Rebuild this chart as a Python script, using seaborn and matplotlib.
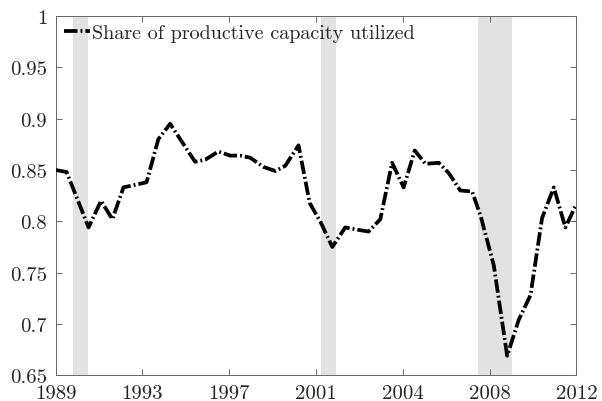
import numpy as np
import pandas as pd
import matplotlib
matplotlib.use("Agg")
import matplotlib.pyplot as plt
import seaborn as sns

# ---- data ----
years = [1989.00, 1989.49, 1990.46, 1991.01, 1991.51, 1992.00, 1993.02, 1993.54,
         1994.06, 1995.16, 1995.61, 1996.19, 1996.71, 1997.15, 1997.59, 1998.18,
         1998.70, 1999.14, 1999.73, 2000.22, 2000.73, 2001.22, 2001.79, 2002.28,
         2002.82, 2003.34, 2003.86, 2004.37, 2004.86, 2005.33, 2005.92, 2006.36,
         2006.87, 2007.39, 2007.76, 2008.35, 2008.94, 2009.45, 2009.97, 2010.48,
         2011.00, 2011.51, 2012.00]
share = [0.850, 0.848, 0.794, 0.820, 0.802, 0.833, 0.838, 0.880,
         0.895, 0.858, 0.860, 0.868, 0.864, 0.864, 0.862, 0.853,
         0.849, 0.854, 0.874, 0.818, 0.798, 0.775, 0.794, 0.792,
         0.790, 0.802, 0.857, 0.833, 0.869, 0.856, 0.857, 0.847,
         0.830, 0.829, 0.806, 0.757, 0.669, 0.704, 0.728, 0.803,
         0.833, 0.794, 0.817]
recession_start = [1989.76, 2000.72, 2007.66]
recession_end = [1990.43, 2001.38, 2009.17]
series_label = "Share of productive capacity utilized"
xtick_labels = ["1989", "1993", "1997", "2001", "2004", "2008", "2012"]
ytick_values = [0.65, 0.7, 0.75, 0.8, 0.85, 0.9, 0.95, 1.0]
ytick_labels = ["0.65", "0.7", "0.75", "0.8", "0.85", "0.9", "0.95", "1"]

df = pd.DataFrame({"year": years, "share": share})

sns.set_theme(style="white")
plt.rcParams.update({
    "font.family": "serif",
    "font.serif": ["cmr10", "DejaVu Serif"],
    "mathtext.fontset": "cm",
    "axes.formatter.use_mathtext": True,
    "axes.unicode_minus": False,
})

fig = plt.figure(figsize=(6.02, 4.02), dpi=100)
ax = fig.add_axes([0.0922, 0.064, 0.8654, 0.8937])

for s, e in zip(recession_start, recession_end):
    ax.axvspan(s, e, color="#e2e2e2", lw=0, zorder=0)

dash = (0, (3.6, 0.8, 0.5, 0.8))
sns.lineplot(data=df, x="year", y="share", ax=ax, color="black", lw=2.7,
             label=series_label, zorder=3)
line = ax.get_lines()[0]
line.set_linestyle(dash)
line.set_dash_capstyle("butt")

ax.set_xlim(1989, 2012)
ax.set_ylim(0.65, 1.0)
ax.set_xticks(np.linspace(1989, 2012, len(xtick_labels)))
ax.set_xticklabels(xtick_labels)
ax.set_yticks(ytick_values)
ax.set_yticklabels(ytick_labels)
ax.set_xlabel("")
ax.set_ylabel("")

ax.tick_params(axis="both", which="both", direction="in", length=4, width=0.6,
               color="#555555", labelsize=15,
               top=True, right=True, left=True, bottom=True)
ax.tick_params(axis="x", pad=6)
ax.tick_params(axis="y", pad=6)
for sp in ax.spines.values():
    sp.set_color("#666666")
    sp.set_linewidth(0.7)
    sp.set_visible(True)

leg = ax.legend(loc="upper left", frameon=False, fontsize=14.5,
                handlelength=1.3, handletextpad=0.1,
                borderaxespad=0.3, borderpad=0.1)
for h in leg.get_lines():
    h.set_linestyle(dash)
    h.set_linewidth(2.7)
    h.set_dash_capstyle("butt")

fig.savefig("out.png", dpi=100)
